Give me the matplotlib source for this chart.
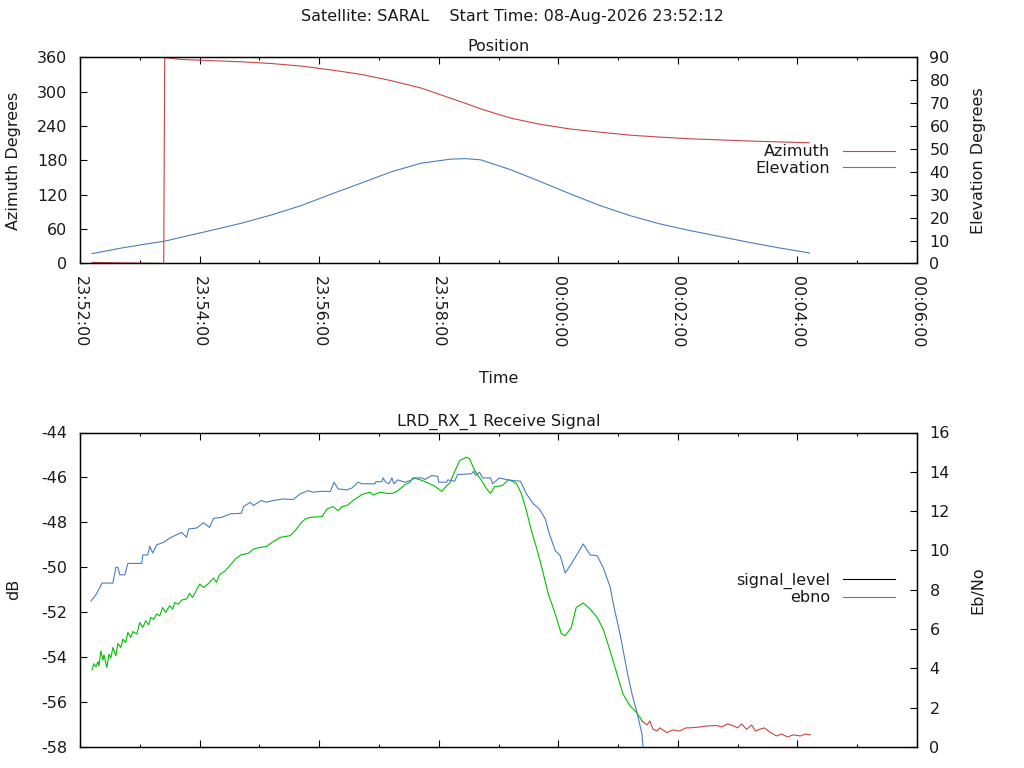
import matplotlib
matplotlib.use("Agg")
import numpy as np
import matplotlib.pyplot as plt
import matplotlib.dates as mdates
from matplotlib.lines import Line2D

plt.rcParams['font.family'] = ['DejaVu Sans']
plt.rcParams['font.size'] = 11.5
plt.rcParams['axes.titlesize'] = 11.5
plt.rcParams['axes.unicode_minus'] = False
plt.rcParams['text.color'] = '#1a1a1a'
plt.rcParams['axes.labelcolor'] = '#1a1a1a'
plt.rcParams['xtick.labelcolor'] = '#1a1a1a'
plt.rcParams['ytick.labelcolor'] = '#1a1a1a'

# ---------------- data ----------------
satellite = "SARAL"
start_time = "08-Aug-2026 23:52:12"
base_time = np.datetime64('2026-08-08T23:52:00')
x_start = np.datetime64('2026-08-08T23:52:00')
x_end = np.datetime64('2026-08-09T00:06:00')

# position samples: seconds after 23:52:00
pos_secs = [12, 42, 72, 84, 85, 102, 132, 162, 192, 222, 252, 282, 312, 342,
            372, 387, 402, 432, 462, 492, 522, 552, 582, 612, 642, 672, 702, 732]
azimuth = [2.0, 1.0, 0.3, 0.0, 359.8, 356.5, 354.5, 352.5, 349.5, 345.0, 338.3,
           330.5, 319.7, 306.8, 288.8, 279.8, 270.3, 254.2, 243.2, 235.0, 229.5,
           224.3, 220.9, 218.0, 216.0, 214.0, 212.5, 211.0]
elevation = [4.3, 6.8, 8.9, 9.7, 9.75, 11.5, 14.5, 17.6, 21.2, 25.3, 30.3,
             35.1, 40.0, 43.8, 45.6, 45.8, 45.3, 41.0, 35.8, 30.4, 25.3,
             20.9, 17.3, 14.4, 11.8, 9.2, 6.8, 4.6]

# receive signal level samples (dB)
signal_secs = [12, 14, 16, 18, 19, 21, 23, 24, 27, 29, 31, 33, 36, 38, 41, 43,
               46, 48, 51, 53, 57, 60, 63, 66, 69, 71, 74, 77, 80, 83, 86, 90,
               93, 95, 99, 102, 107, 110, 113, 117, 120, 124, 129, 134, 137, 140,
               146, 151, 156, 162, 169, 174, 181, 187, 194, 201, 211, 216, 221,
               226, 231, 243, 248, 254, 259, 263, 268, 274, 279, 283, 291, 294,
               301, 308, 314, 319, 323, 326, 331, 334, 341, 348, 356, 363, 368,
               371, 375, 381, 388, 391, 396, 403, 408, 412, 416, 424, 430, 438,
               443, 448, 453, 458, 463, 470, 477, 483, 487, 493, 498, 505, 512,
               519, 525, 532, 539, 545, 552, 557, 562,
               564, 569, 572, 575, 579, 582, 589, 595, 602, 608, 615, 622, 630,
               639, 644, 650, 656, 660, 664, 669, 674, 678, 682, 687, 692, 699,
               704, 710, 716, 723, 728, 733]
signal_db = [-54.57, -54.29, -54.43, -54.20, -54.39, -53.72, -54.13, -53.90,
             -54.46, -53.87, -54.04, -53.57, -53.94, -53.39, -53.57, -53.20,
             -53.35, -52.90, -53.13, -52.86, -52.97, -52.46, -52.68, -52.38,
             -52.56, -52.23, -52.31, -52.08, -52.16, -51.79, -52.01, -51.71,
             -51.86, -51.57, -51.64, -51.46, -51.41, -51.16, -51.34, -51.01,
             -50.75, -50.90, -50.72, -50.48, -50.67, -50.33,
             -50.15, -49.89, -49.63, -49.44, -49.38, -49.19, -49.11, -49.08,
             -48.85, -48.67, -48.59, -48.37, -48.07,
             -47.85, -47.78, -47.74, -47.40, -47.30, -47.48, -47.30, -47.25,
             -47.03, -46.88, -46.76, -46.66, -46.78,
             -46.66, -46.71, -46.71, -46.59, -46.44, -46.32, -46.22, -46.02,
             -46.10, -46.22, -46.39, -46.62, -46.36,
             -46.26, -45.84, -45.25, -45.10, -45.17, -45.69, -46.14, -46.51,
             -46.71, -46.41, -46.36, -46.10, -46.26,
             -46.73, -47.48, -48.37, -49.11, -49.93, -51.19, -52.08, -52.95,
             -53.05, -52.68, -51.79, -51.59, -51.86,
             -52.23, -52.75, -53.72, -54.76, -55.65, -56.17, -56.39, -56.69,
             -56.84, -57.02, -56.84, -57.20, -57.29, -57.15, -57.36, -57.24,
             -57.29, -57.15, -57.14, -57.11, -57.06,
             -57.04, -57.11, -56.97, -57.06, -57.15, -56.97, -57.21, -57.02,
             -57.29, -57.21, -57.15, -57.33, -57.51,
             -57.42, -57.55, -57.46, -57.51, -57.42, -57.46]

# Eb/No samples
ebno_secs = [11, 16, 20, 22, 33, 36, 38, 40, 45, 48, 62, 63, 68, 70, 73, 77,
             84, 90, 102, 107, 109, 117, 124, 130, 134, 142, 151, 162, 164, 171,
             174, 182, 187, 194, 204, 214, 221, 229, 234, 243, 251, 255, 259,
             268, 273, 279, 283, 296, 297, 303, 304, 307, 310, 313, 315, 319,
             326, 333, 336, 343, 346, 353, 359, 360, 368, 369, 376, 379, 393,
             395, 397, 401, 404, 412, 414, 421, 429, 442, 448, 455, 461, 467,
             471, 477, 482, 487, 493, 500, 505, 512, 519, 525, 532, 536, 542,
             549, 554, 559, 564, 565]
ebno = [7.42, 7.75, 8.12, 8.34, 8.34, 9.14, 9.14, 8.76, 8.76, 9.34, 9.34, 9.77,
        9.77, 10.21, 9.87, 10.29, 10.41, 10.63, 10.92, 10.67, 11.09, 11.14,
        11.41, 11.17, 11.63, 11.68, 11.86, 11.89, 12.23, 12.45, 12.28, 12.54,
        12.45, 12.54, 12.62, 12.59, 12.88, 13.04, 12.96, 13.01, 12.99, 13.47,
        13.13, 13.08, 13.18, 13.47, 13.39, 13.39, 13.50, 13.50, 13.69, 13.47,
        13.39, 13.69, 13.39, 13.59, 13.47, 13.59, 13.69, 13.69, 13.61, 13.81,
        13.77, 13.47, 13.47, 13.59, 13.52, 13.86, 13.90, 14.03, 13.81, 13.98,
        13.69, 13.69, 13.39, 13.69, 13.59, 13.52, 12.88, 12.37, 12.11, 11.60,
        10.84, 9.99, 9.73, 8.85, 9.31, 9.90, 10.33, 9.77, 9.73, 9.14, 8.15,
        7.10, 5.74, 3.87, 2.69, 1.75, 0.65, 0.0]

assert len(pos_secs) == len(azimuth) == len(elevation)
assert len(signal_secs) == len(signal_db)
assert len(ebno_secs) == len(ebno)

# ---------------- style ----------------
RED = '#c84646'
BLUE = '#4a7ebf'
GREEN = '#00c000'
W, H = 1024, 768


def to_time(secs):
    return base_time + np.asarray(secs).astype('timedelta64[s]')


def style_xaxis(ax, labels=True):
    ax.set_xlim(x_start, x_end)
    ax.xaxis.set_major_locator(mdates.MinuteLocator(byminute=range(0, 60, 2)))
    ax.xaxis.set_minor_locator(mdates.MinuteLocator())
    ax.xaxis.set_major_formatter(mdates.DateFormatter('%H:%M:%S'))
    ax.tick_params(axis='x', which='both', direction='in', top=True,
                   bottom=True, pad=9, labelbottom=labels)
    ax.tick_params(axis='x', which='major', length=4.7, width=0.8)
    ax.tick_params(axis='x', which='minor', length=2.4, width=0.8)
    if labels:
        ax.tick_params(axis='x', labelrotation=-90)


fig = plt.figure(figsize=(W / 100, H / 100), dpi=100)
fig.text(0.5, 1 - 17 / H, f"Satellite: {satellite}    Start Time: {start_time}",
         ha='center', va='center')

# ---------------- Position ----------------
ax1 = fig.add_axes([80 / W, 1 - 263.5 / H, 837 / W, 206 / H])
ax1r = ax1.twinx()
pos_t = to_time(pos_secs)
ax1.plot(pos_t, azimuth, color=RED, lw=0.8)
ax1r.plot(pos_t, elevation, color=BLUE, lw=0.8)
ax1.set_ylim(0, 360)
ax1.set_yticks(range(0, 361, 60))
ax1r.set_ylim(0, 90)
ax1r.set_yticks(range(0, 91, 10))
style_xaxis(ax1, labels=True)
ax1.tick_params(axis='y', direction='in', left=True, right=False, length=4.7,
                width=0.8, pad=9)
ax1r.tick_params(axis='y', direction='in', right=True, left=False, length=4.7,
                 width=0.8, pad=9)
for lbl in ax1.get_xticklabels():
    lbl.set_ha('center')
    lbl.set_va('top')
ax1.set_title('Position', pad=4.5)
ax1.set_xlabel('Time', labelpad=17)
ax1.set_ylabel('Azimuth Degrees', va='center')
ax1.yaxis.set_label_coords((14 - 80) / 837, 0.5)
ax1r.set_ylabel('Elevation Degrees', va='center')
ax1r.yaxis.set_label_coords((978 - 80) / 837, 0.5)
ax1r.legend([Line2D([], [], color=RED, lw=0.8), Line2D([], [], color=BLUE, lw=0.8)],
            ['Azimuth', 'Elevation'], loc='center right',
            bbox_to_anchor=(895 / W, 1 - 160 / H), bbox_transform=fig.transFigure,
            frameon=False, markerfirst=False, handlelength=3.25,
            handletextpad=0.8, borderpad=0, borderaxespad=0, labelspacing=0.1)

# ---------------- Receive signal ----------------
ax2 = fig.add_axes([80 / W, 1 - 747 / H, 837 / W, 314.5 / H])
ax2r = ax2.twinx()
sig_t = to_time(signal_secs)
sig = np.asarray(signal_db)
ebno_at_sig = np.interp(signal_secs, ebno_secs, ebno, right=0.0)
locked = np.where(ebno_at_sig >= 1.0)[0]
last = locked[-1] + 1
ax2.plot(sig_t[:last + 1], sig[:last + 1], color=GREEN, lw=0.8)
ax2.plot(sig_t[last:], sig[last:], color=RED, lw=0.8)
ax2r.plot(to_time(ebno_secs), ebno, color=BLUE, lw=0.8)
ax2.set_ylim(-58, -44)
ax2.set_yticks(range(-58, -43, 2))
ax2r.set_ylim(0, 16)
ax2r.set_yticks(range(0, 17, 2))
style_xaxis(ax2, labels=False)
ax2.tick_params(axis='y', direction='in', left=True, right=False, length=4.7,
                width=0.8, pad=9)
ax2r.tick_params(axis='y', direction='in', right=True, left=False, length=4.7,
                 width=0.8, pad=9)
ax2.set_title('LRD_RX_1 Receive Signal', pad=4.5)
ax2.set_ylabel('dB', va='center')
ax2.yaxis.set_label_coords((14 - 80) / 837, 0.5)
ax2r.set_ylabel('Eb/No', va='center')
ax2r.yaxis.set_label_coords((978 - 80) / 837, 0.5)
ax2r.legend([Line2D([], [], color='black', lw=0.8), Line2D([], [], color=BLUE, lw=0.8)],
            ['signal_level', 'ebno'], loc='center right',
            bbox_to_anchor=(895 / W, 1 - 589 / H), bbox_transform=fig.transFigure,
            frameon=False, markerfirst=False, handlelength=3.25,
            handletextpad=0.8, borderpad=0, borderaxespad=0, labelspacing=0.1)

for ax in (ax1, ax1r, ax2, ax2r):
    for s in ax.spines.values():
        s.set_linewidth(0.9)

fig.savefig('out.png', dpi=100)
